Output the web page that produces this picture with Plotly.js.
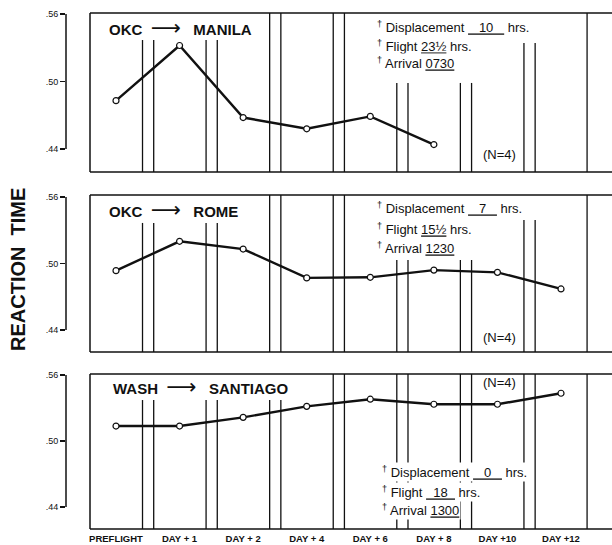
<!DOCTYPE html>
<html><head><meta charset="utf-8">
<script src="https://cdn.plot.ly/plotly-3.0.1.min.js"></script>
<style>html,body{margin:0;padding:0;background:#fff}</style>
</head><body><div id="chart" style="width:612px;height:545px"></div>
<script>
// ---- data ----
const categories = ['PREFLIGHT','DAY + 1','DAY + 2','DAY + 4','DAY + 6','DAY + 8','DAY +10','DAY +12'];
const manila   = [0.483, 0.532, 0.468, 0.458, 0.469, 0.444, null, null];
const rome     = [0.4935, 0.520, 0.513, 0.487, 0.4875, 0.494, 0.492, 0.477];
const santiago = [0.5136, 0.5136, 0.5215, 0.5315, 0.538, 0.5334, 0.5334, 0.5434];
const yTickVals = [0.44, 0.50, 0.56];
const yTickText = ['.44', '.50', '.56'];
const routeFrom = ['OKC', 'OKC', 'WASH'];
const routeTo = ['MANILA', 'ROME', 'SANTIAGO'];
const displacement = ['10', '7', '0'];
const flight = ['23½', '15½', '\u00a0\u00a018\u00a0\u00a0'];
const arrival = ['0730', '1230', '1300'];
const nLabel = ['(N=4)', '(N=4)', '(N=4)'];

// ---- layout helpers ----
const W = 612, H = 545, ML = 66, MT = 13, MB = 16;
const PW = W - ML, PH = H - MT - MB;
const fx = px => (px - ML) / PW;
const fy = py => (H - MB - py) / PH;
const BLACK = '#111';
const NB = '\u00a0';

const panels = [
  {series: manila, yk: 'y', top: 13, bot: 172, range: [0.4196, 0.5609],
   lineTops: [0.830, 0.830, 1, 1, 0.560, 0.560, 0.811],
   titleX: 107, titleY: 27, nY: 154, textY: [27, 46, 63], textX: 375},
  {series: rome, yk: 'y2', top: 195, bot: 352, range: [0.4201, 0.5618],
   lineTops: [0.822, 0.822, 1, 1, 0.586, 0.586, 0.841],
   titleX: 107, titleY: 209, nY: 337, textY: [208, 229, 248], textX: 375},
  {series: santiago, yk: 'y3', top: 374, bot: 529, range: [0.4200, 0.5609],
   lineTops: [0.832, 0.832, 0.832, 1, 1, 1, 1],
   titleX: 111, titleY: 386, nY: 383, textY: [472, 492, 510], textX: 380}
];

const traces = [];
const shapes = [];
const annotations = [];
const layout = {
  width: W, height: H, margin: {l: ML, r: 0, t: MT, b: MB},
  paper_bgcolor: '#fff', plot_bgcolor: 'rgba(0,0,0,0)', showlegend: false,
  font: {family: 'Liberation Sans, Arial, DejaVu Sans, sans-serif', color: BLACK},
  xaxis: {type: 'category', categoryarray: categories, range: [-0.7865, 7.802],
    anchor: 'y3', showgrid: false, zeroline: false, showline: false, ticks: '',
    ticklabelstandoff: 2,
    tickfont: {size: 9.5, weight: 'bold'}, fixedrange: true},
  shapes: shapes, annotations: annotations
};

const line = (o) => Object.assign({type: 'line', layer: 'above', line: {color: BLACK, width: 1.3}}, o);

panels.forEach((p, i) => {
  const axName = i === 0 ? 'yaxis' : 'yaxis' + (i + 1);
  layout[axName] = {domain: [fy(p.bot), fy(p.top)], range: p.range, anchor: 'x',
    tickvals: yTickVals, ticktext: yTickText, ticks: 'outside', ticklen: 5, tickwidth: 1.2,
    tickcolor: BLACK, showgrid: false, zeroline: false, showline: false,
    tickfont: {size: 9}, fixedrange: true};
  traces.push({x: categories, y: p.series, xaxis: 'x', yaxis: p.yk, type: 'scatter',
    mode: 'lines+markers', line: {color: BLACK, width: 2.4},
    marker: {symbol: 'circle', size: 6, color: '#fff', line: {color: BLACK, width: 1.2}},
    connectgaps: false, cliponaxis: false});
  const yd = p.yk + ' domain';
  // left axis line (.44 to .56)
  shapes.push(line({xref: 'paper', x0: 0, x1: 0, yref: p.yk, y0: 0.44, y1: 0.56, line: {color: BLACK, width: 1.5}}));
  // panel frame
  shapes.push(line({xref: 'paper', x0: fx(90), x1: 1, yref: yd, y0: 1, y1: 1, line: {color: BLACK, width: 1.5}}));
  shapes.push(line({xref: 'paper', x0: fx(90), x1: 1, yref: yd, y0: 0, y1: 0, line: {color: BLACK, width: 1.5}}));
  shapes.push(line({xref: 'paper', x0: fx(90), x1: fx(90), yref: yd, y0: 0, y1: 1, line: {color: BLACK, width: 1.5}}));
  shapes.push(line({xref: 'x', x0: 7.41, x1: 7.41, yref: yd, y0: 0, y1: 1}));
  // paired separator lines between successive days
  p.lineTops.forEach((t, g) => {
    [-0.088, 0.088].forEach(d => {
      shapes.push(line({xref: 'x', x0: g + 0.505 + d, x1: g + 0.505 + d, yref: yd, y0: 0, y1: t}));
    });
  });
  // route title
  annotations.push({xref: 'paper', yref: 'paper', x: fx(p.titleX), y: fy(p.titleY), xanchor: 'left', yanchor: 'middle',
    text: '<b>' + routeFrom[i] + '</b>' + NB + NB + '<span style="font-size:21px">⟶</span>' + NB + NB + NB + '<b>' + routeTo[i] + '</b>',
    showarrow: false, font: {size: 15}});
  annotations.push({xref: 'paper', yref: 'paper', x: fx(499), y: fy(p.nY), xanchor: 'center', yanchor: 'middle',
    text: nLabel[i], showarrow: false, font: {size: 13}});
  const rows = [
    '<sup>†</sup> Displacement <u>' + NB + NB + NB + displacement[i] + NB + NB + NB + '</u> hrs.',
    '<sup>†</sup> Flight <u>' + flight[i] + '</u> hrs.',
    '<sup>†</sup> Arrival <u>' + arrival[i] + '</u>'
  ];
  rows.forEach((r, k) => {
    annotations.push({xref: 'paper', yref: 'paper', x: fx(p.textX), y: fy(p.textY[k]), xanchor: 'left', yanchor: 'middle',
      text: r, showarrow: false, font: {size: 13}, bgcolor: '#fff', borderpad: 1});
  });
});

annotations.push({xref: 'paper', yref: 'paper', x: fx(18), y: fy(270), xanchor: 'center', yanchor: 'middle',
  text: '<b>REACTION' + NB + NB + 'TIME</b>', textangle: -90, showarrow: false, font: {size: 20}});

Plotly.newPlot('chart', traces, layout, {displayModeBar: false, staticPlot: true});
</script></body></html>
